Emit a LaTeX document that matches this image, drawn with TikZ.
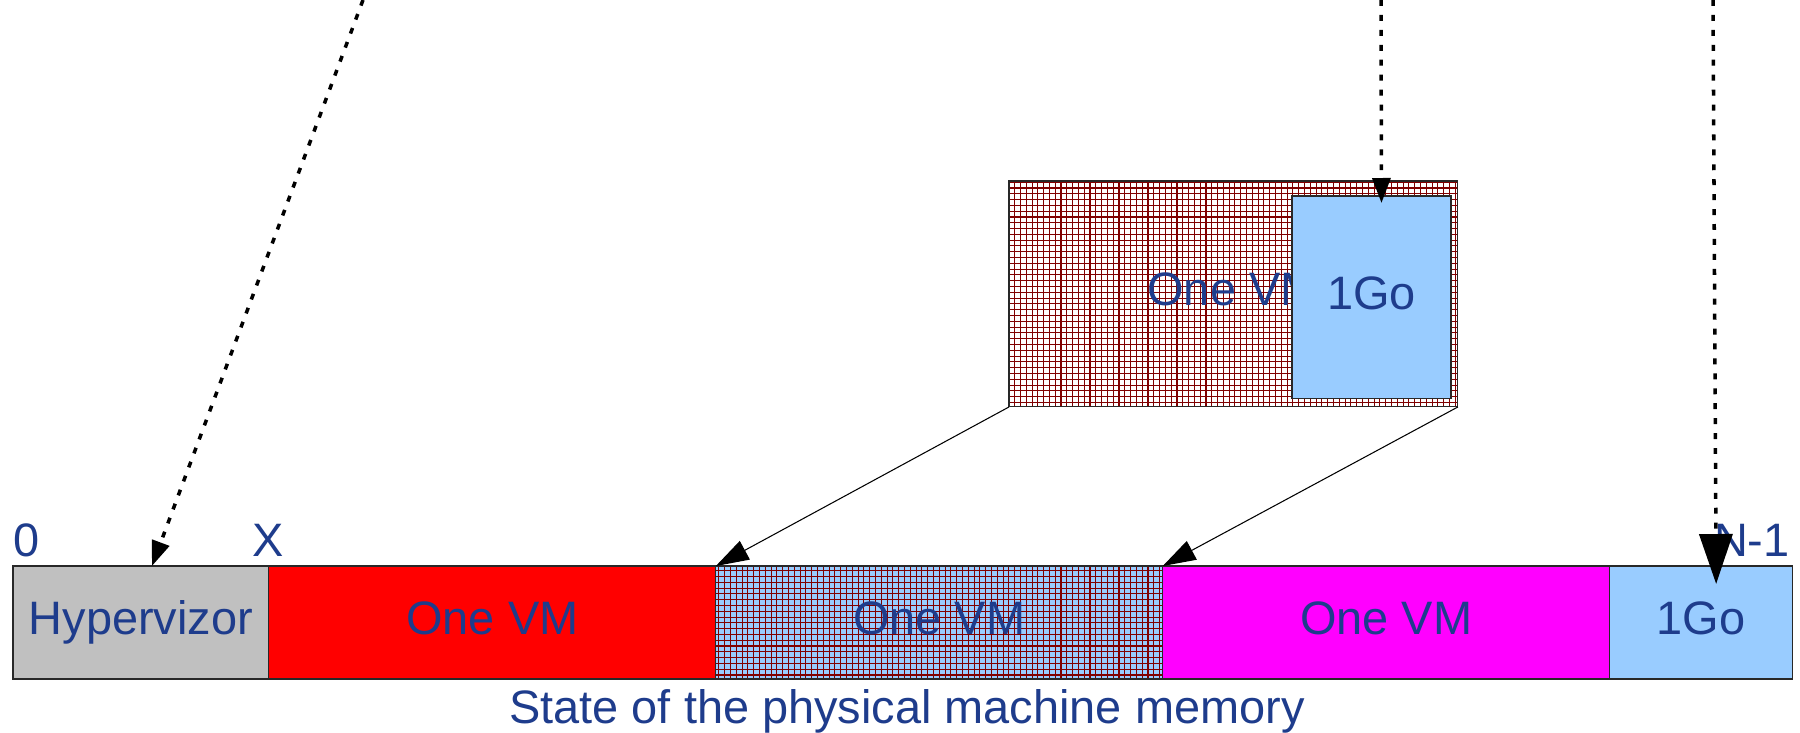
\documentclass[tikz,border=0pt]{standalone}
\usepackage{fontspec}
\setmainfont{Liberation Sans}
\usepackage{tikz}
\usetikzlibrary{arrows.meta,positioning,patterns,calc}
\usepackage{xcolor}
\definecolor{hvgrey}{RGB}{192,192,192}
\definecolor{vmred}{RGB}{255,0,0}
\definecolor{vmmagenta}{RGB}{255,0,255}
\definecolor{goblue}{RGB}{153,204,255}
\definecolor{labelblue}{RGB}{30,60,140}
\definecolor{griddark}{RGB}{128,0,0}
\definecolor{edgegrey}{RGB}{40,40,40}

% fine grid used for the copied VM
\pgfdeclarepatternformonly{memgrid}{\pgfqpoint{-1pt}{-1pt}}{\pgfqpoint{4.3pt}{4.3pt}}{\pgfqpoint{3.3pt}{3.3pt}}
{
  \pgfsetlinewidth{0.6pt}
  \pgfpathmoveto{\pgfqpoint{0pt}{0pt}}
  \pgfpathlineto{\pgfqpoint{0pt}{3.4pt}}
  \pgfpathmoveto{\pgfqpoint{0pt}{0pt}}
  \pgfpathlineto{\pgfqpoint{3.4pt}{0pt}}
  \pgfusepath{stroke}
}

\tikzset{
  memfont/.style={font=\fontsize{26.7}{32}\selectfont, text=labelblue, inner sep=0pt},
  seg/.style={draw=edgegrey, line width=0.6pt, minimum height=2.26cm,
    outer sep=0pt, memfont, text height=19.1pt, text depth=5.6pt},
  hatched/.style={pattern=memgrid, pattern color=griddark},
  copyarrow/.style={-{Triangle[length=0.66cm,width=0.42cm]}, line width=0.6pt, draw=black},
  refarrow/.style={-{Triangle[length=0.5cm,width=0.36cm]}, line width=2pt,
    dash pattern=on 3.4pt off 5.1pt},
  bigref/.style={refarrow, -{Triangle[length=1.0cm,width=0.66cm]}},
}

\begin{document}
\begin{tikzpicture}[x=0.02cm, y=-0.02cm]

    \useasboundingbox (0,0) rectangle (1800,733);

    % Physical memory bar
    \node[seg, fill=hvgrey, minimum width=5.12cm, anchor=north west] (hyp) at (13,566) {Hypervizor};
    \node[seg, fill=vmred, minimum width=8.94cm, right=0pt of hyp] (vmone) {One VM};
    \node[seg, hatched, preaction={fill=goblue}, minimum width=8.94cm, right=0pt of vmone] (vmtwo) {One VM};
    \node[seg, fill=vmmagenta, minimum width=8.94cm, right=0pt of vmtwo] (vmthree) {One VM};
    \node[seg, fill=goblue, minimum width=3.66cm, right=0pt of vmthree] (gobot) {1Go};

    % Address marks
    \node[memfont, anchor=base west] (zero) at (13,556) {0};
    \node[memfont, anchor=base] (xmark) at (268,556) {X};
    \node[memfont, anchor=base east] (nmark) at (1790,556) {N-1};

    \node[memfont, anchor=base] (caption) at (907,723) {State of the physical machine memory};

    % VM being copied, with its 1Go inside
    \node[seg, hatched, preaction={fill=white}, minimum width=8.98cm, minimum height=4.52cm,
      anchor=north west] (vmtop) at (1009,181) {One VM};
    \node[seg, fill=goblue, minimum width=3.18cm, minimum height=4.06cm,
      anchor=north west] (gotop) at (1292,196) {1Go};

    % Copy arrows
    \draw[copyarrow] (vmtop.south west) -- (vmtwo.north west);
    \draw[copyarrow] (vmtop.south east) -- (vmtwo.north east);

    % Dashed references from above
    \coordinate (srchyp) at (363,0);
    \coordinate (srcvm) at (1381,0);
    \coordinate (srcgo) at (1713,0);
    \draw[refarrow] (srchyp) -- ($(hyp.north)+(11,0)$);
    \draw[refarrow] (srcvm) -- ($(gotop.north)+(10,7)$);
    \draw[bigref] (srcgo) -- ($(gobot.north)+(15,18)$);

\end{tikzpicture}
\end{document}
